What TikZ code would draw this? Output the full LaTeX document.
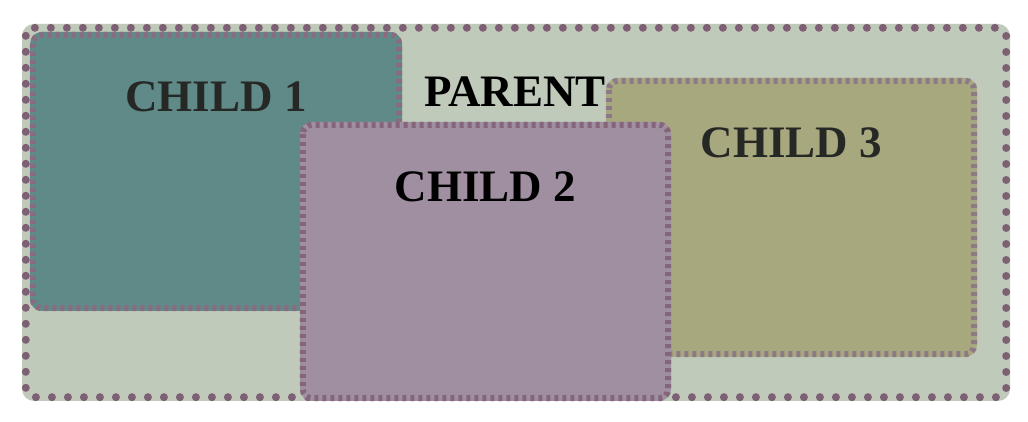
\documentclass[tikz,border=0pt]{standalone}
\usepackage{fontspec}
\setmainfont{Liberation Serif}
\definecolor{parentbg}{HTML}{BFCABB}
\definecolor{dotcol}{HTML}{7E6074}
\definecolor{teal1}{HTML}{5F8A87}
\definecolor{mauve2}{HTML}{A08FA1}
\definecolor{khaki3}{HTML}{A8A87E}
\definecolor{bord1}{HTML}{8A6C80}
\definecolor{bord2}{HTML}{846579}
\definecolor{bord3}{HTML}{8E7A86}
\definecolor{childtext}{HTML}{262826}
\begin{document}
\begin{tikzpicture}[x=1pt,y=1pt,
  boxfill/.style={rectangle, rounded corners=12pt, inner sep=0pt, draw=none},
  childborder/.style={line width=6pt, dash pattern=on 4pt off 4pt, rounded corners=9pt},
  parentborder/.style={line width=8pt, dash pattern=on 0pt off 16pt, line cap=round, draw=dotcol, rounded corners=8pt},
  lbl/.style={font=\bfseries\fontsize{45}{45}\selectfont, anchor=base, inner sep=0pt}]
\useasboundingbox (0,0) rectangle (1028,422);
% parent
\node[boxfill, fill=parentbg, minimum width=988pt, minimum height=377pt] (parent) at (516,209.5) {};
\draw[parentborder] ([shift={(4,-4)}]parent.north west) rectangle ([shift={(-4,4)}]parent.south east);
\node[lbl, text=black] (ptext) at (515,315) {PARENT};
% child 1
\node[boxfill, fill=teal1, minimum width=372pt, minimum height=279pt] (c1) at (216,250.5) {};
\draw[childborder, draw=bord1] ([shift={(3,-3)}]c1.north west) rectangle ([shift={(-3,3)}]c1.south east);
\node[lbl, text=childtext] (t1) at (216,310) {CHILD 1};
% child 3
\node[boxfill, fill=khaki3, minimum width=371pt, minimum height=279pt] (c3) at (791.5,204.5) {};
\draw[childborder, draw=bord3] ([shift={(3,-3)}]c3.north west) rectangle ([shift={(-3,3)}]c3.south east);
\node[lbl, text=childtext] (t3) at (791.5,264) {CHILD 3};
% child 2
\node[boxfill, fill=mauve2, minimum width=371pt, minimum height=279pt] (c2) at (485.5,160.5) {};
\draw[childborder, draw=bord2] ([shift={(3,-3)}]c2.north west) rectangle ([shift={(-3,3)}]c2.south east);
\node[lbl, text=black] (t2) at (485.5,220) {CHILD 2};
\end{tikzpicture}
\end{document}
